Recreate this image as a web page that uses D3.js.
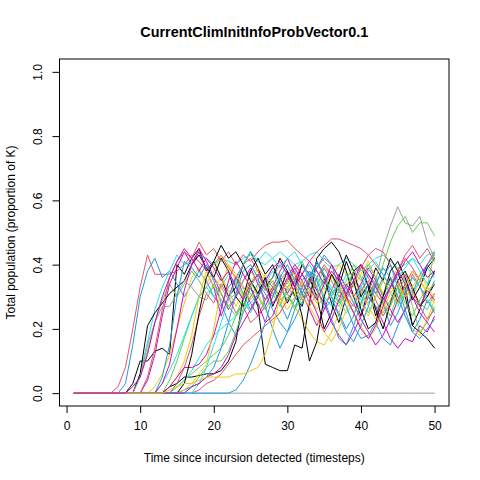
<!DOCTYPE html>
<html>
<head>
<meta charset="utf-8">
<script src="https://cdn.jsdelivr.net/npm/d3@7/dist/d3.min.js"></script>
<style>
  body { margin: 0; background: #fff; }
  svg { font-family: "Liberation Sans", Arial, sans-serif; }
</style>
</head>
<body>
<div id="chart"></div>
<script>
// Chart text
const title = 'CurrentClimInitInfoProbVector0.1';
const xLabel = 'Time since incursion detected (timesteps)';
const yLabel = 'Total population (proportion of K)';

// Tick labels
const xTicks = [0, 10, 20, 30, 40, 50];
const yTicks = [0, 0.2, 0.4, 0.6, 0.8, 1.0];

// Timesteps 1..50
const timesteps = d3.range(1, 51);

// R default palette (black, red, green, blue, cyan, magenta, yellow, gray)
const palette = ['#000000', '#DF536B', '#61D04F', '#2297E6', '#28E2E5', '#CD0BBC', '#F5C710', '#9E9E9E'];

// Simulated runs, proportion of K per timestep (10 values per row)
const run01 = [0,0,0,0,0,0,0,0,.03,.10, .10,.13,.14,.12,.40,.37,.42,.45,.38,.41, .36,.30,.33,.40,.44,.39,.33,.36,.42,.38, .30,.27,.35,.41,.36,.28,.22,.30,.38,.40, .33,.24,.30,.36,.28,.33,.21,.19,.17,.14];
const run02 = [0,0,0,0,0,0,.02,.08,.20,.33, .43,.37,.37,.37,.38,.40,.43,.41,.38,.40, .43,.39,.36,.40,.42,.38,.33,.30,.35,.38, .34,.29,.31,.36,.39,.35,.30,.33,.37,.40, .36,.31,.28,.33,.38,.42,.39,.35,.40,.44];
const run03 = [0,0,0,0,0,0,0,0,0,.05, .13,.22,.29,.34,.30,.34,.38,.35,.31,.33, .29,.27,.30,.33,.31,.27,.29,.32,.35,.33, .30,.28,.32,.36,.33,.30,.27,.31,.34,.30, .28,.33,.40,.47,.52,.55,.50,.53,.53,.49];
const run04 = [0,0,0,0,0,0,0,.03,.15,.30, .38,.42,.36,.38,.34,.30,.34,.38,.35,.30, .27,.33,.36,.31,.26,.31,.36,.33,.28,.23, .29,.35,.38,.33,.26,.29,.25,.20,.24,.31, .37,.34,.28,.21,.25,.31,.36,.33,.30,.35];
const run05 = [0,0,0,0,0,0,0,0,0,.06, .16,.26,.33,.38,.43,.40,.41,.43,.42,.40, .42,.41,.40,.42,.43,.41,.40,.42,.44,.42, .40,.41,.43,.44,.41,.39,.40,.42,.40,.38, .40,.42,.43,.41,.39,.40,.42,.40,.43,.44];
const run06 = [0,0,0,0,0,0,0,0,0,0, .04,.12,.24,.34,.39,.44,.40,.45,.41,.36, .31,.26,.30,.35,.39,.34,.29,.33,.38,.42, .37,.31,.26,.21,.26,.32,.37,.33,.28,.23, .19,.15,.18,.23,.29,.34,.38,.35,.40,.37];
const run07 = [0,0,0,0,0,0,0,0,0,0, 0,.02,.06,.12,.20,.28,.36,.39,.34,.38, .43,.40,.35,.30,.34,.39,.36,.31,.28,.32, .37,.34,.30,.26,.31,.36,.40,.37,.33,.37, .41,.36,.31,.35,.39,.34,.30,.35,.31,.28];
const run08 = [0,0,0,0,0,0,0,0,0,0, 0,0,0,0,0,0,0,0,0,0, 0,0,0,0,0,0,0,0,0,0, 0,0,0,0,0,0,0,0,0,0, 0,0,0,0,0,0,0,0,0,0];
const run09 = [0,0,0,0,0,0,0,0,0,.06, .21,.25,.28,.31,.33,.35,.40,.43,.39,.36, .42,.38,.30,.27,.33,.27,.09,.08,.07,.07, .15,.14,.28,.42,.45,.47,.44,.38,.30,.24, .32,.39,.35,.42,.38,.30,.21,.26,.33,.38];
const run10 = [0,0,0,0,0,0,0,0,0,0, .05,.14,.26,.36,.41,.44,.42,.47,.43,.45, .41,.44,.40,.43,.41,.44,.46,.47,.47,.475, .45,.43,.41,.44,.46,.48,.48,.47,.46,.45, .43,.40,.37,.33,.38,.43,.46,.42,.45,.41];
const run11 = [0,0,0,0,0,0,0,0,0,0, 0,0,0,.04,.10,.17,.24,.30,.29,.34, .31,.27,.24,.28,.26,.30,.34,.31,.27,.33, .36,.31,.35,.32,.28,.31,.34,.29,.25,.28, .31,.27,.25,.29,.33,.30,.32,.28,.26,.31];
const run12 = [0,0,0,0,0,0,0,0,0,0, 0,0,.05,.15,.30,.41,.39,.36,.40,.35, .28,.22,.18,.25,.30,.34,.31,.26,.22,.19, .23,.28,.34,.39,.43,.40,.33,.27,.21,.17, .18,.22,.17,.15,.21,.26,.31,.37,.40,.43];
const run13 = [0,0,0,0,0,0,0,0,0,0, 0,0,.03,.07,.12,.18,.24,.30,.33,.30, .33,.37,.34,.29,.25,.30,.35,.39,.36,.31, .27,.31,.36,.40,.37,.33,.29,.25,.28,.32, .30,.26,.29,.34,.38,.35,.31,.35,.39,.36];
const run14 = [0,0,0,0,0,0,0,0,0,0, 0,0,.03,.09,.20,.32,.40,.44,.38,.33, .24,.30,.36,.33,.28,.24,.27,.32,.36,.31, .35,.40,.37,.32,.28,.22,.18,.15,.19,.24, .30,.27,.22,.17,.14,.17,.16,.21,.19,.24];
const run15 = [0,0,0,0,0,0,0,0,0,0, 0,0,0,.02,.05,.10,.18,.30,.38,.33, .36,.32,.27,.31,.35,.31,.26,.22,.25,.30, .27,.23,.19,.16,.15,.19,.25,.31,.35,.32, .27,.23,.28,.33,.30,.24,.20,.18,.23,.29];
const run16 = [0,0,0,0,0,0,0,0,0,.05, .15,.22,.27,.27,.31,.35,.33,.30,.33,.36, .33,.29,.31,.35,.38,.35,.32,.36,.40,.37, .33,.30,.27,.31,.35,.32,.28,.31,.35,.33, .30,.35,.45,.52,.58,.53,.52,.55,.47,.42];
const run17 = [0,0,0,0,0,0,0,0,0,0, 0,0,0,.02,.03,.05,.05,.055,.06,.06, .07,.10,.16,.30,.38,.42,.37,.40,.34,.28, .33,.40,.36,.30,.20,.25,.36,.43,.38,.30, .34,.26,.20,.28,.35,.38,.33,.27,.30,.34];
const run18 = [0,0,0,0,0,0,0,0,0,0, 0,0,0,0,.03,.08,.15,.24,.31,.28, .34,.30,.25,.27,.22,.24,.29,.33,.30,.35, .38,.33,.28,.36,.40,.37,.32,.29,.34,.39, .43,.45,.44,.40,.35,.30,.37,.33,.28,.31];
const run19 = [0,0,0,0,0,0,0,0,0,0, 0,0,0,0,.02,.04,.06,.08,.10,.12, .14,.18,.24,.30,.35,.30,.26,.30,.37,.34, .38,.41,.36,.33,.39,.37,.31,.35,.40,.36, .30,.34,.28,.24,.31,.36,.27,.19,.22,.27];
const run20 = [0,0,0,0,0,0,0,0,0,0, 0,0,0,0,0,.01,.02,.03,.05,.08, .14,.22,.31,.38,.40,.36,.27,.20,.14,.19, .26,.33,.38,.35,.29,.23,.17,.15,.21,.28, .34,.31,.36,.40,.33,.26,.19,.23,.29,.25];
const run21 = [0,0,0,0,0,0,0,0,0,0, 0,0,0,0,.02,.04,.07,.11,.15,.18, .20,.22,.24,.26,.28,.31,.34,.38,.33,.29, .33,.37,.40,.36,.30,.27,.32,.37,.34,.29, .25,.30,.35,.31,.27,.32,.36,.33,.29,.26];
const run22 = [0,0,0,0,0,0,0,0,0,0, 0,0,0,.02,.05,.08,.08,.09,.12,.18, .26,.35,.41,.37,.33,.28,.22,.24,.30,.35, .39,.35,.30,.25,.19,.23,.29,.34,.30,.34, .39,.35,.30,.26,.22,.26,.30,.27,.32,.29];
const run23 = [0,0,0,0,0,0,0,0,0,0, 0,0,0,0,0,.01,.03,.06,.09,.20, .33,.40,.37,.33,.29,.33,.37,.34,.30,.26, .30,.35,.32,.28,.33,.37,.34,.29,.25,.21, .17,.20,.26,.31,.34,.30,.33,.37,.33,.30];
const run24 = [0,0,0,0,0,0,0,0,0,0, 0,0,0,0,0,.03,.12,.25,.36,.41, .46,.42,.44,.40,.35,.31,.36,.27,.32,.38, .33,.24,.10,.16,.30,.37,.33,.41,.35,.26, .20,.22,.30,.38,.41,.36,.29,.33,.39,.42];
const run25 = [0,0,0,0,0,0,0,0,0,0, 0,0,0,0,0,0,0,.01,.03,.04, .06,.09,.12,.15,.17,.19,.21,.23,.25,.29, .33,.37,.34,.39,.42,.40,.36,.30,.27,.32, .35,.29,.24,.28,.33,.37,.32,.27,.23,.26];
const run26 = [0,0,0,0,0,0,0,0,0,0, 0,0,0,0,0,0,.02,.05,.08,.10, .10,.13,.19,.26,.33,.37,.32,.35,.29,.31, .26,.30,.33,.30,.36,.32,.28,.33,.38,.35, .40,.36,.30,.27,.33,.28,.24,.29,.33,.44];
const run27 = [0,0,0,0,0,0,0,0,0,0, 0,0,0,0,0,0,0,0,0,0, 0,0,.01,.04,.09,.15,.22,.30,.36,.40, .35,.31,.36,.41,.37,.30,.24,.19,.16,.21, .27,.34,.39,.36,.30,.24,.19,.17,.20,.23];
const run28 = [0,0,0,0,0,0,0,0,0,0, 0,0,0,0,0,0,0,.03,.08,.15, .22,.29,.35,.40,.44,.41,.44,.42,.39,.42, .44,.40,.36,.38,.33,.30,.35,.32,.28,.33, .38,.41,.37,.33,.36,.39,.42,.38,.34,.37];
const run29 = [0,0,0,0,0,0,0,0,0,0, 0,0,0,0,0,0,.02,.03,.05,.06, .08,.12,.18,.22,.26,.30,.35,.39,.41,.37, .33,.37,.41,.38,.34,.40,.36,.30,.25,.20, .17,.21,.27,.33,.38,.34,.30,.25,.22,.19];
const run30 = [0,0,0,0,0,0,0,0,0,0, 0,0,0,.01,.02,.03,.03,.04,.05,.05, .05,.05,.06,.06,.07,.08,.12,.20,.30,.35, .31,.30,.27,.23,.19,.16,.20,.26,.31,.28, .24,.30,.35,.32,.28,.33,.38,.35,.32,.34];
const run31 = [0,0,0,0,0,0,0,0,.02,.05, .12,.22,.30,.36,.41,.45,.42,.38,.42,.39, .35,.38,.33,.29,.34,.37,.33,.28,.31,.36, .40,.37,.33,.29,.34,.38,.35,.31,.35,.40, .37,.33,.29,.33,.37,.41,.44,.40,.36,.38];

// drawing order and colour index of each run (matplot style)
const runs = [run01, run02, run03, run04, run05, run06, run07, run08,
              run09, run10, run11, run12, run13, run14, run15, run16,
              run17, run18, run19, run20, run21, run22, run23,
              run24, run25, run26, run27, run28, run29, run30, run31];
const runColours = [0, 1, 2, 3, 4, 5, 6, 7,
                    0, 1, 2, 3, 4, 5, 6, 7,
                    0, 1, 2, 3, 4, 5, 6,
                    0, 1, 2, 3, 4, 5, 6, 5];

const width = 480;
const height = 480;
const plot = { left: 59.5, right: 449, top: 59, bottom: 406 };

const svg = d3.select('#chart')
  .append('svg')
  .attr('width', width)
  .attr('height', height);

// R pads axis ranges by 4% on each side
const xScale = d3.scaleLinear()
  .domain([1 - 49 * 0.04, 50 + 49 * 0.04])
  .range([plot.left, plot.right]);

const yScale = d3.scaleLinear()
  .domain([-0.04, 1.04])
  .range([plot.bottom, plot.top]);

// Lines
const line = d3.line()
  .x((d, i) => xScale(timesteps[i]))
  .y(d => yScale(d));

svg.append('g')
  .attr('class', 'runs')
  .selectAll('path')
  .data(runs)
  .join('path')
  .attr('d', d => line(d))
  .attr('fill', 'none')
  .attr('stroke', (d, i) => palette[runColours[i]])
  .attr('stroke-width', 1);

// Box
svg.append('rect')
  .attr('x', plot.left)
  .attr('y', plot.top)
  .attr('width', plot.right - plot.left)
  .attr('height', plot.bottom - plot.top)
  .attr('fill', 'none')
  .attr('stroke', '#000')
  .attr('stroke-width', 1);

// X axis
const xAxis = svg.append('g')
  .attr('transform', `translate(0, ${plot.bottom})`)
  .call(d3.axisBottom(xScale).tickValues(xTicks).tickSize(7).tickPadding(8).tickFormat(d3.format('d')));
xAxis.select('.domain').remove();
xAxis.selectAll('text').attr('font-size', 12).attr('fill', '#000').attr('font-family', '"Liberation Sans", Arial, sans-serif');

// Y axis, labels rotated like R's las = 0
const yAxis = svg.append('g')
  .attr('transform', `translate(${plot.left}, 0)`)
  .call(d3.axisLeft(yScale).tickValues(yTicks).tickSize(7).tickFormat(d3.format('.1f')));
yAxis.select('.domain').remove();
yAxis.selectAll('text')
  .attr('font-size', 12)
  .attr('fill', '#000')
  .attr('font-family', '"Liberation Sans", Arial, sans-serif')
  .attr('text-anchor', 'middle')
  .attr('transform', 'rotate(-90)')
  .attr('x', 0)
  .attr('y', -21.5)
  .attr('dy', '0.35em');

// Titles
svg.append('text')
  .attr('x', (plot.left + plot.right) / 2)
  .attr('y', 37)
  .attr('text-anchor', 'middle')
  .attr('font-size', 14.4)
  .attr('font-weight', 'bold')
  .text(title);

svg.append('text')
  .attr('x', (plot.left + plot.right) / 2)
  .attr('y', 462)
  .attr('text-anchor', 'middle')
  .attr('font-size', 12)
  .text(xLabel);

svg.append('text')
  .attr('transform', `translate(15, ${(plot.top + plot.bottom) / 2}) rotate(-90)`)
  .attr('text-anchor', 'middle')
  .attr('font-size', 12)
  .text(yLabel);
</script>
</body>
</html>
